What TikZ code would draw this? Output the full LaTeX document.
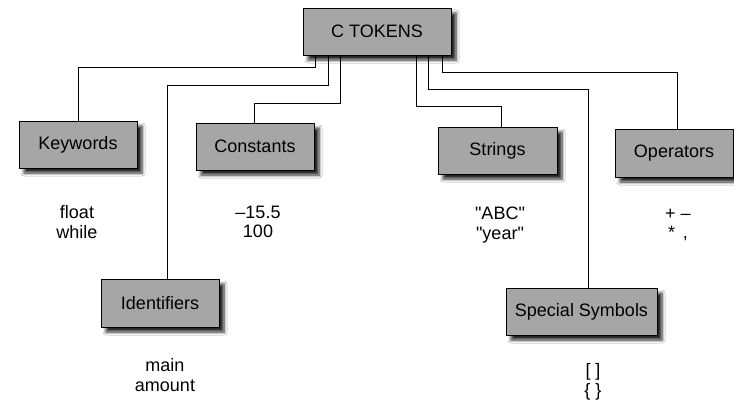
\documentclass[tikz,border=0pt]{standalone}
\usepackage{fontspec}
\setmainfont{Liberation Sans}
\usetikzlibrary{shadows.blur}
\begin{document}
\begin{tikzpicture}[x=1pt,y=-1pt,
  tokbox/.style={draw=black, line width=0.9pt, fill=black!35,
    blur shadow={shadow xshift=5pt, shadow yshift=-5pt, shadow blur steps=6, shadow blur radius=3pt, shadow opacity=85},
    inner sep=0pt, font=\fontsize{18}{20}\selectfont},
  conn/.style={draw=black, line width=1pt},
  ex/.style={align=center, inner sep=0pt, font=\fontsize{18}{19.5}\selectfont}]
\useasboundingbox (0,0) rectangle (734,404);
\fill[white] (0,0) rectangle (734,404);
% boxes
\node[tokbox, minimum width=148pt, minimum height=47pt] (ct) at (377,31.5) {C TOKENS};
\node[tokbox, minimum width=118pt, minimum height=47pt] (kw) at (78,144.5) {Keywords};
\node[tokbox, minimum width=118pt, minimum height=47pt] (cn) at (255,146.5) {Constants};
\node[tokbox, minimum width=119pt, minimum height=47pt] (st) at (497.5,150.5) {Strings};
\node[tokbox, minimum width=118pt, minimum height=48pt] (op) at (674,153) {Operators};
\node[tokbox, minimum width=118pt, minimum height=48pt] (id) at (160,303) {Identifiers};
\node[tokbox, minimum width=151pt, minimum height=47pt] (ss) at (581.5,311.5) {Special Symbols};
% connectors
\draw[conn] (ct.south -| 315,0) |- (78,68) -- (kw.north);
\draw[conn] (ct.south -| 328,0) |- (167,86) -- (id.north -| 167,0);
\draw[conn] (ct.south -| 340,0) |- (254,103) -- (cn.north -| 254,0);
\draw[conn] (ct.south -| 416,0) |- (501,106) -- (st.north -| 501,0);
\draw[conn] (ct.south -| 428,0) |- (588,90) -- (ss.north -| 588,0);
\draw[conn] (ct.south -| 442,0) |- (677,73) -- (op.north -| 677,0);
% examples
\node[ex] (kwx) at (77,222) {float\\while};
\node[ex] (cnx) at (258,222) {\textendash15.5\\100};
\node[ex] (stx) at (500,225) {\textquotedbl ABC\textquotedbl\\\textquotedbl year\textquotedbl};
\node[ex] (opx) at (678,225) {+ \textendash\\* \,,};
\node[ex] (idx) at (165,375) {main\\amount};
\node[ex] (ssx) at (593,382) {[ ]\\\{ \}};
\end{tikzpicture}
\end{document}
